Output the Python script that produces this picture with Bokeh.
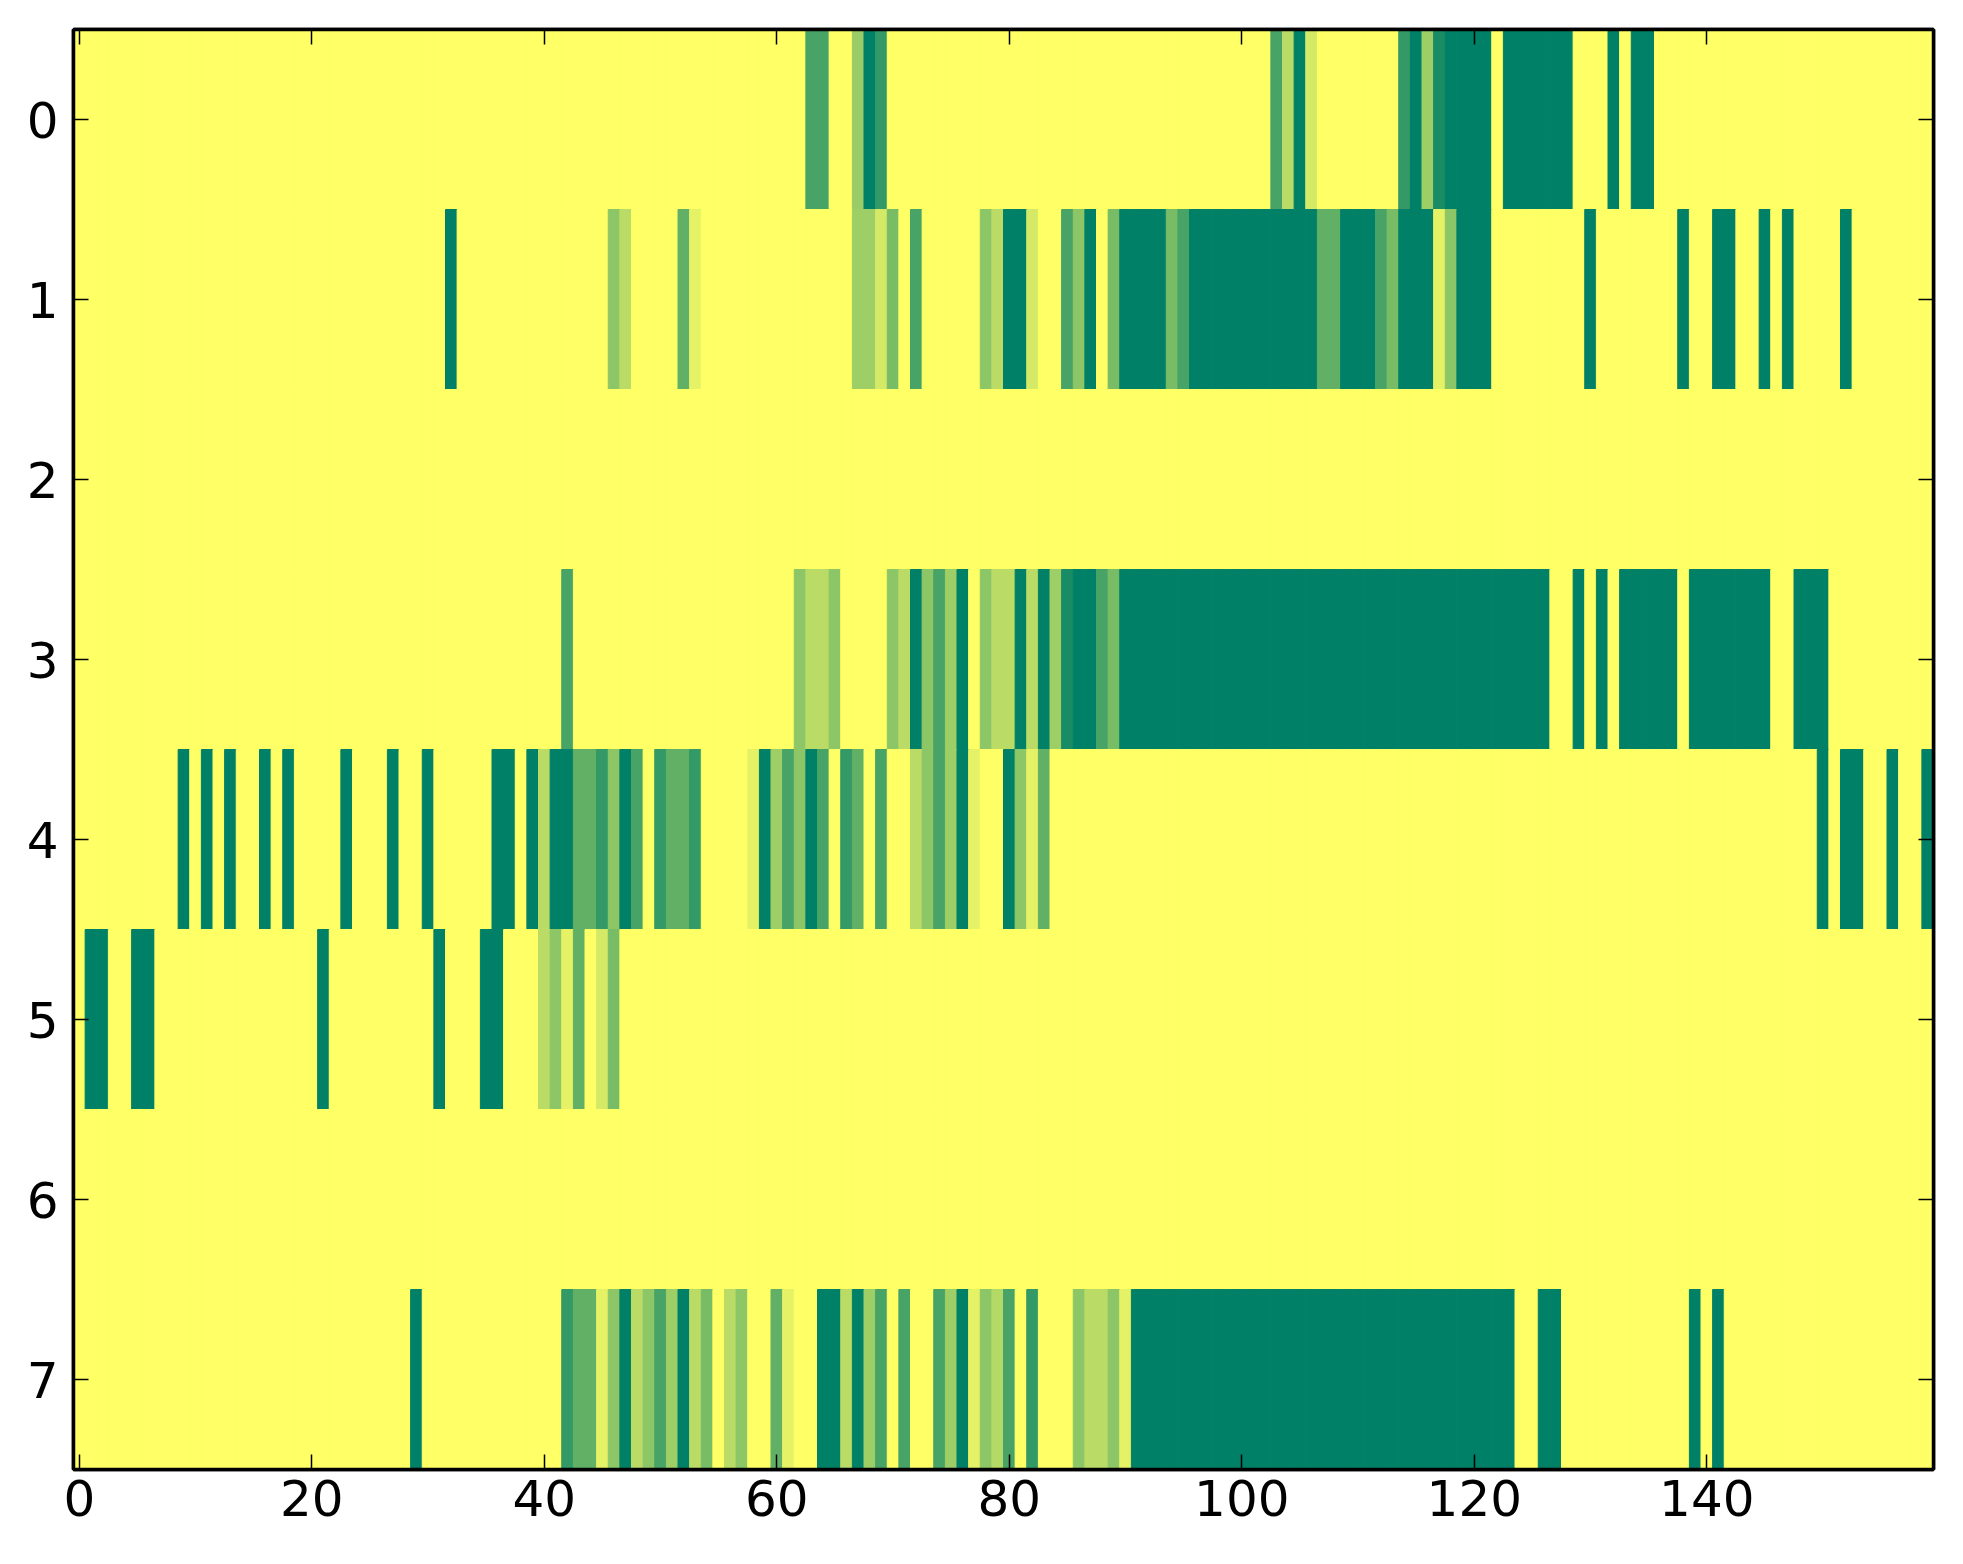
from bokeh.plotting import figure
from bokeh.models import (Range1d, LinearAxis, FixedTicker, LinearColorMapper,
                          ColumnDataSource, CustomJSTickFormatter)
from bokeh.transform import transform
from bokeh.embed import file_html
from bokeh.resources import INLINE

# ---- data: per row, runs of (first column, last column, value); all other cells are 0 ----
n_cols = 160
n_rows = 8

row_0_runs = [(63, 64, .72), (67, 67, .40), (68, 68, 1), (69, 69, .80), (103, 103, .72),
              (104, 104, .27), (105, 105, 1), (106, 106, .17), (114, 114, .80), (115, 115, 1),
              (116, 116, .38), (117, 117, .90), (118, 121, 1), (123, 128, 1), (132, 132, 1),
              (134, 135, 1)]
row_1_runs = [(32, 32, 1), (46, 46, .45), (47, 47, .27), (52, 52, .62), (53, 53, .10),
              (67, 68, .38), (69, 69, .17), (70, 70, .53), (72, 72, .72), (78, 78, .45),
              (79, 79, .27), (80, 81, 1), (82, 82, .17), (85, 85, .72), (86, 86, .45),
              (87, 87, 1), (89, 89, .53), (90, 93, 1), (94, 94, .53), (95, 95, .72),
              (96, 106, 1), (107, 108, .62), (109, 111, 1), (112, 112, .72), (113, 113, .53),
              (114, 116, 1), (117, 117, .10), (118, 118, .45), (119, 121, 1), (130, 130, 1),
              (138, 138, 1), (141, 142, 1), (145, 145, 1), (147, 147, 1), (152, 152, 1)]
row_2_runs = []
row_3_runs = [(42, 42, .72), (62, 62, .45), (63, 64, .27), (65, 65, .45), (70, 70, .45),
              (71, 71, .27), (72, 72, 1), (73, 73, .45), (74, 74, .72), (75, 75, .38),
              (76, 76, 1), (78, 78, .45), (79, 80, .27), (81, 81, 1), (82, 82, .27),
              (83, 83, 1), (84, 84, .38), (85, 85, .90), (86, 87, 1), (88, 88, .72),
              (89, 89, .53), (90, 126, 1), (129, 129, 1), (131, 131, 1), (133, 137, 1),
              (139, 145, 1), (148, 150, 1)]
row_4_runs = [(9, 9, 1), (11, 11, 1), (13, 13, 1), (16, 16, 1), (18, 18, 1), (23, 23, 1),
              (27, 27, 1), (30, 30, 1), (36, 37, 1), (39, 39, 1), (40, 40, .27), (41, 42, 1),
              (43, 44, .62), (45, 45, .80), (46, 46, .45), (47, 47, 1), (48, 48, .72),
              (50, 50, .80), (51, 52, .62), (53, 53, .80), (58, 58, .10), (59, 59, 1),
              (60, 60, .38), (61, 61, .72), (62, 62, .45), (63, 63, 1), (64, 64, .72),
              (66, 66, .80), (67, 67, .62), (69, 69, .72), (72, 72, .27), (73, 73, .45),
              (74, 74, .72), (75, 75, .38), (76, 76, 1), (77, 77, .10), (80, 80, 1),
              (81, 81, .45), (82, 82, .10), (83, 83, .62), (150, 150, 1), (152, 153, 1),
              (156, 156, 1), (159, 159, 1)]
row_5_runs = [(1, 2, 1), (5, 6, 1), (21, 21, 1), (31, 31, 1), (35, 36, 1), (40, 40, .27),
              (41, 41, .45), (42, 42, .10), (43, 43, .62), (45, 45, .17), (46, 46, .53)]
row_6_runs = []
row_7_runs = [(29, 29, 1), (42, 42, .80), (43, 44, .62), (45, 45, .10), (46, 46, .45),
              (47, 47, 1), (48, 48, .27), (49, 49, .45), (50, 50, .72), (51, 51, .38),
              (52, 52, 1), (53, 53, .27), (54, 54, .53), (56, 56, .27), (57, 57, .45),
              (60, 60, .62), (61, 61, .10), (64, 65, 1), (66, 66, .27), (67, 67, 1),
              (68, 68, .38), (69, 69, .72), (71, 71, .72), (74, 74, .72), (75, 75, .38),
              (76, 76, 1), (77, 77, .10), (78, 78, .45), (79, 79, .30), (80, 80, .72),
              (82, 82, .80), (86, 86, .45), (87, 88, .27), (89, 89, .45), (90, 90, .10),
              (91, 123, 1), (126, 127, 1), (139, 139, 1), (141, 141, 1)]

x_ticks = [0, 20, 40, 60, 80, 100, 120, 140]
y_ticks = [0, 1, 2, 3, 4, 5, 6, 7]

all_rows = [row_0_runs, row_1_runs, row_2_runs, row_3_runs,
            row_4_runs, row_5_runs, row_6_runs, row_7_runs]

# ---- build the full grid ----
grid = [[0.0] * n_cols for _ in range(n_rows)]
for r, runs in enumerate(all_rows):
    for a, b, v in runs:
        for c in range(a, b + 1):
            grid[r][c] = v

xs, ys, vs = [], [], []
for r in range(n_rows):
    for c in range(n_cols):
        xs.append(c)
        ys.append(r)
        vs.append(grid[r][c])
src = ColumnDataSource(dict(x=xs, y=ys, v=vs))

# summer_r colormap
palette = []
for i in range(256):
    t = 1 - i / 255.0
    rr, gg, bb = t, 0.5 + 0.5 * t, 0.4
    palette.append("#%02x%02x%02x" % (round(rr * 255), round(gg * 255), round(bb * 255)))
mapper = LinearColorMapper(palette=palette, low=0, high=1)

p = figure(frame_width=1860, frame_height=1440,
           x_range=Range1d(-0.5, 159.5), y_range=Range1d(7.5, -0.5),
           output_backend="svg", toolbar_location=None,
           min_border_left=73, min_border_top=29, min_border_right=26, min_border_bottom=90)

p.rect(x='x', y='y', width=1, height=1, source=src,
       fill_color=transform('v', mapper), line_color=transform('v', mapper), line_width=1)

p.grid.visible = False
p.outline_line_color = "black"
p.outline_line_width = 3.5
p.background_fill_color = "#ffff66"

bottom_axis = p.below[0]
left_axis = p.left[0]
bottom_axis.ticker = FixedTicker(ticks=x_ticks)
left_axis.ticker = FixedTicker(ticks=y_ticks)

top_axis = LinearAxis(ticker=FixedTicker(ticks=x_ticks),
                      formatter=CustomJSTickFormatter(code="return ''"))
right_axis = LinearAxis(ticker=FixedTicker(ticks=y_ticks),
                        formatter=CustomJSTickFormatter(code="return ''"))
p.add_layout(top_axis, "above")
p.add_layout(right_axis, "right")

for ax in [bottom_axis, left_axis, top_axis, right_axis]:
    ax.axis_line_color = "black"
    ax.axis_line_width = 3.5
    ax.major_tick_in = 15
    ax.major_tick_out = 0
    ax.major_tick_line_width = 1.5
    ax.major_tick_line_color = "black"
    ax.minor_tick_line_color = None
    ax.major_label_text_font = "DejaVu Sans"
    ax.major_label_text_color = "black"

bottom_axis.major_label_text_font_size = "50px"
left_axis.major_label_text_font_size = "50px"
bottom_axis.major_label_standoff = 10
left_axis.major_label_standoff = 15
top_axis.major_label_standoff = 0
right_axis.major_label_standoff = 0
top_axis.major_label_text_font_size = "1px"
right_axis.major_label_text_font_size = "1px"

open("out.html", "w").write(file_html(p, INLINE))
